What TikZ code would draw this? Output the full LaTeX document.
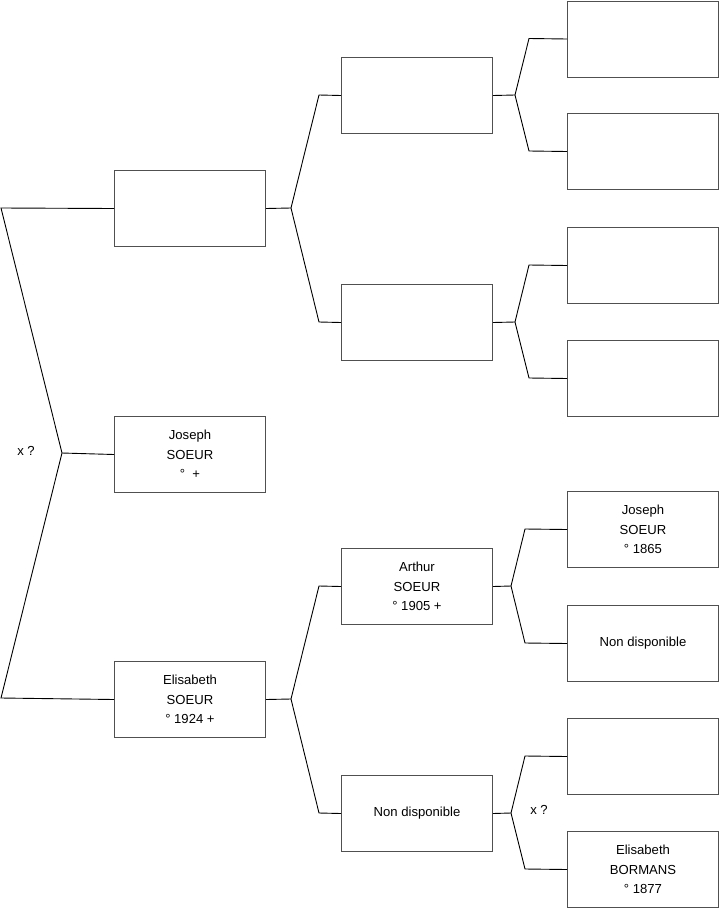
\documentclass[tikz,border=0pt]{standalone}
\usepackage{fontspec}
\setmainfont{Liberation Sans}
\definecolor{boxgray}{HTML}{505050}
\begin{document}
\begin{tikzpicture}[x=1pt,y=-1pt,
  person/.style={draw=boxgray, line width=1pt, minimum width=151pt, minimum height=76pt,
    inner sep=0pt, align=center, anchor=north west, font=\fontsize{13.1}{19.5}\selectfont},
  link/.style={draw=black, line width=0.9pt},
  note/.style={font=\fontsize{13.1}{15}\selectfont, inner sep=0pt}]
\useasboundingbox (0,0) rectangle (719,908);
% generation 1
\node[person] (g1a) at (114,170) {};
\node[person] (g1b) at (114,416) {Joseph\\SOEUR\\°\ \ +};
\node[person] (g1c) at (114,661) {Elisabeth\\SOEUR\\° 1924 +};
% generation 2
\node[person] (g2a) at (341,57) {};
\node[person] (g2b) at (341,284) {};
\node[person] (g2c) at (341,548) {Arthur\\SOEUR\\° 1905 +};
\node[person] (g2d) at (341,775) {Non disponible};
% generation 3
\node[person] (g3a) at (567,0.5) {};
\node[person] (g3b) at (567,113) {};
\node[person] (g3c) at (567,227) {};
\node[person] (g3d) at (567,340) {};
\node[person] (g3e) at (567,491) {Joseph\\SOEUR\\° 1865};
\node[person] (g3f) at (567,605) {Non disponible};
\node[person] (g3g) at (567,718) {};
\node[person] (g3h) at (567,831) {Elisabeth\\BORMANS\\° 1877};
% root fork
\coordinate (r0) at (1,208);
\coordinate (r1) at (62,453);
\coordinate (r2) at (1,698);
\draw[link] (g1a.west) -- (r0) -- (r1) -- (r2) -- (g1c.west);
\draw[link] (r1) -- (g1b.west);
\node[note] (x1) at (26,451) {x ?};
% g1a fork
\coordinate (j1) at (291,208);
\draw[link] (g1a.east) -- (j1);
\draw[link] (j1) -- (319,95) -- (g2a.west);
\draw[link] (j1) -- (319,322) -- (g2b.west);
% g1c fork
\coordinate (j2) at (291,699);
\draw[link] (g1c.east) -- (j2);
\draw[link] (j2) -- (319,586) -- (g2c.west);
\draw[link] (j2) -- (319,813) -- (g2d.west);
% g2a fork
\coordinate (j3) at (515,95);
\draw[link] (g2a.east) -- (j3);
\draw[link] (j3) -- (529,38.5) -- (g3a.west);
\draw[link] (j3) -- (529,151) -- (g3b.west);
% g2b fork
\coordinate (j4) at (515,322);
\draw[link] (g2b.east) -- (j4);
\draw[link] (j4) -- (529,265) -- (g3c.west);
\draw[link] (j4) -- (529,378) -- (g3d.west);
% g2c fork
\coordinate (j5) at (511,586);
\draw[link] (g2c.east) -- (j5);
\draw[link] (j5) -- (525,529) -- (g3e.west);
\draw[link] (j5) -- (525,643) -- (g3f.west);
% g2d fork
\coordinate (j6) at (511,813);
\draw[link] (g2d.east) -- (j6);
\draw[link] (j6) -- (525,756) -- (g3g.west);
\draw[link] (j6) -- (525,869) -- (g3h.west);
\node[note] (x2) at (539,810) {x ?};
\end{tikzpicture}
\end{document}
